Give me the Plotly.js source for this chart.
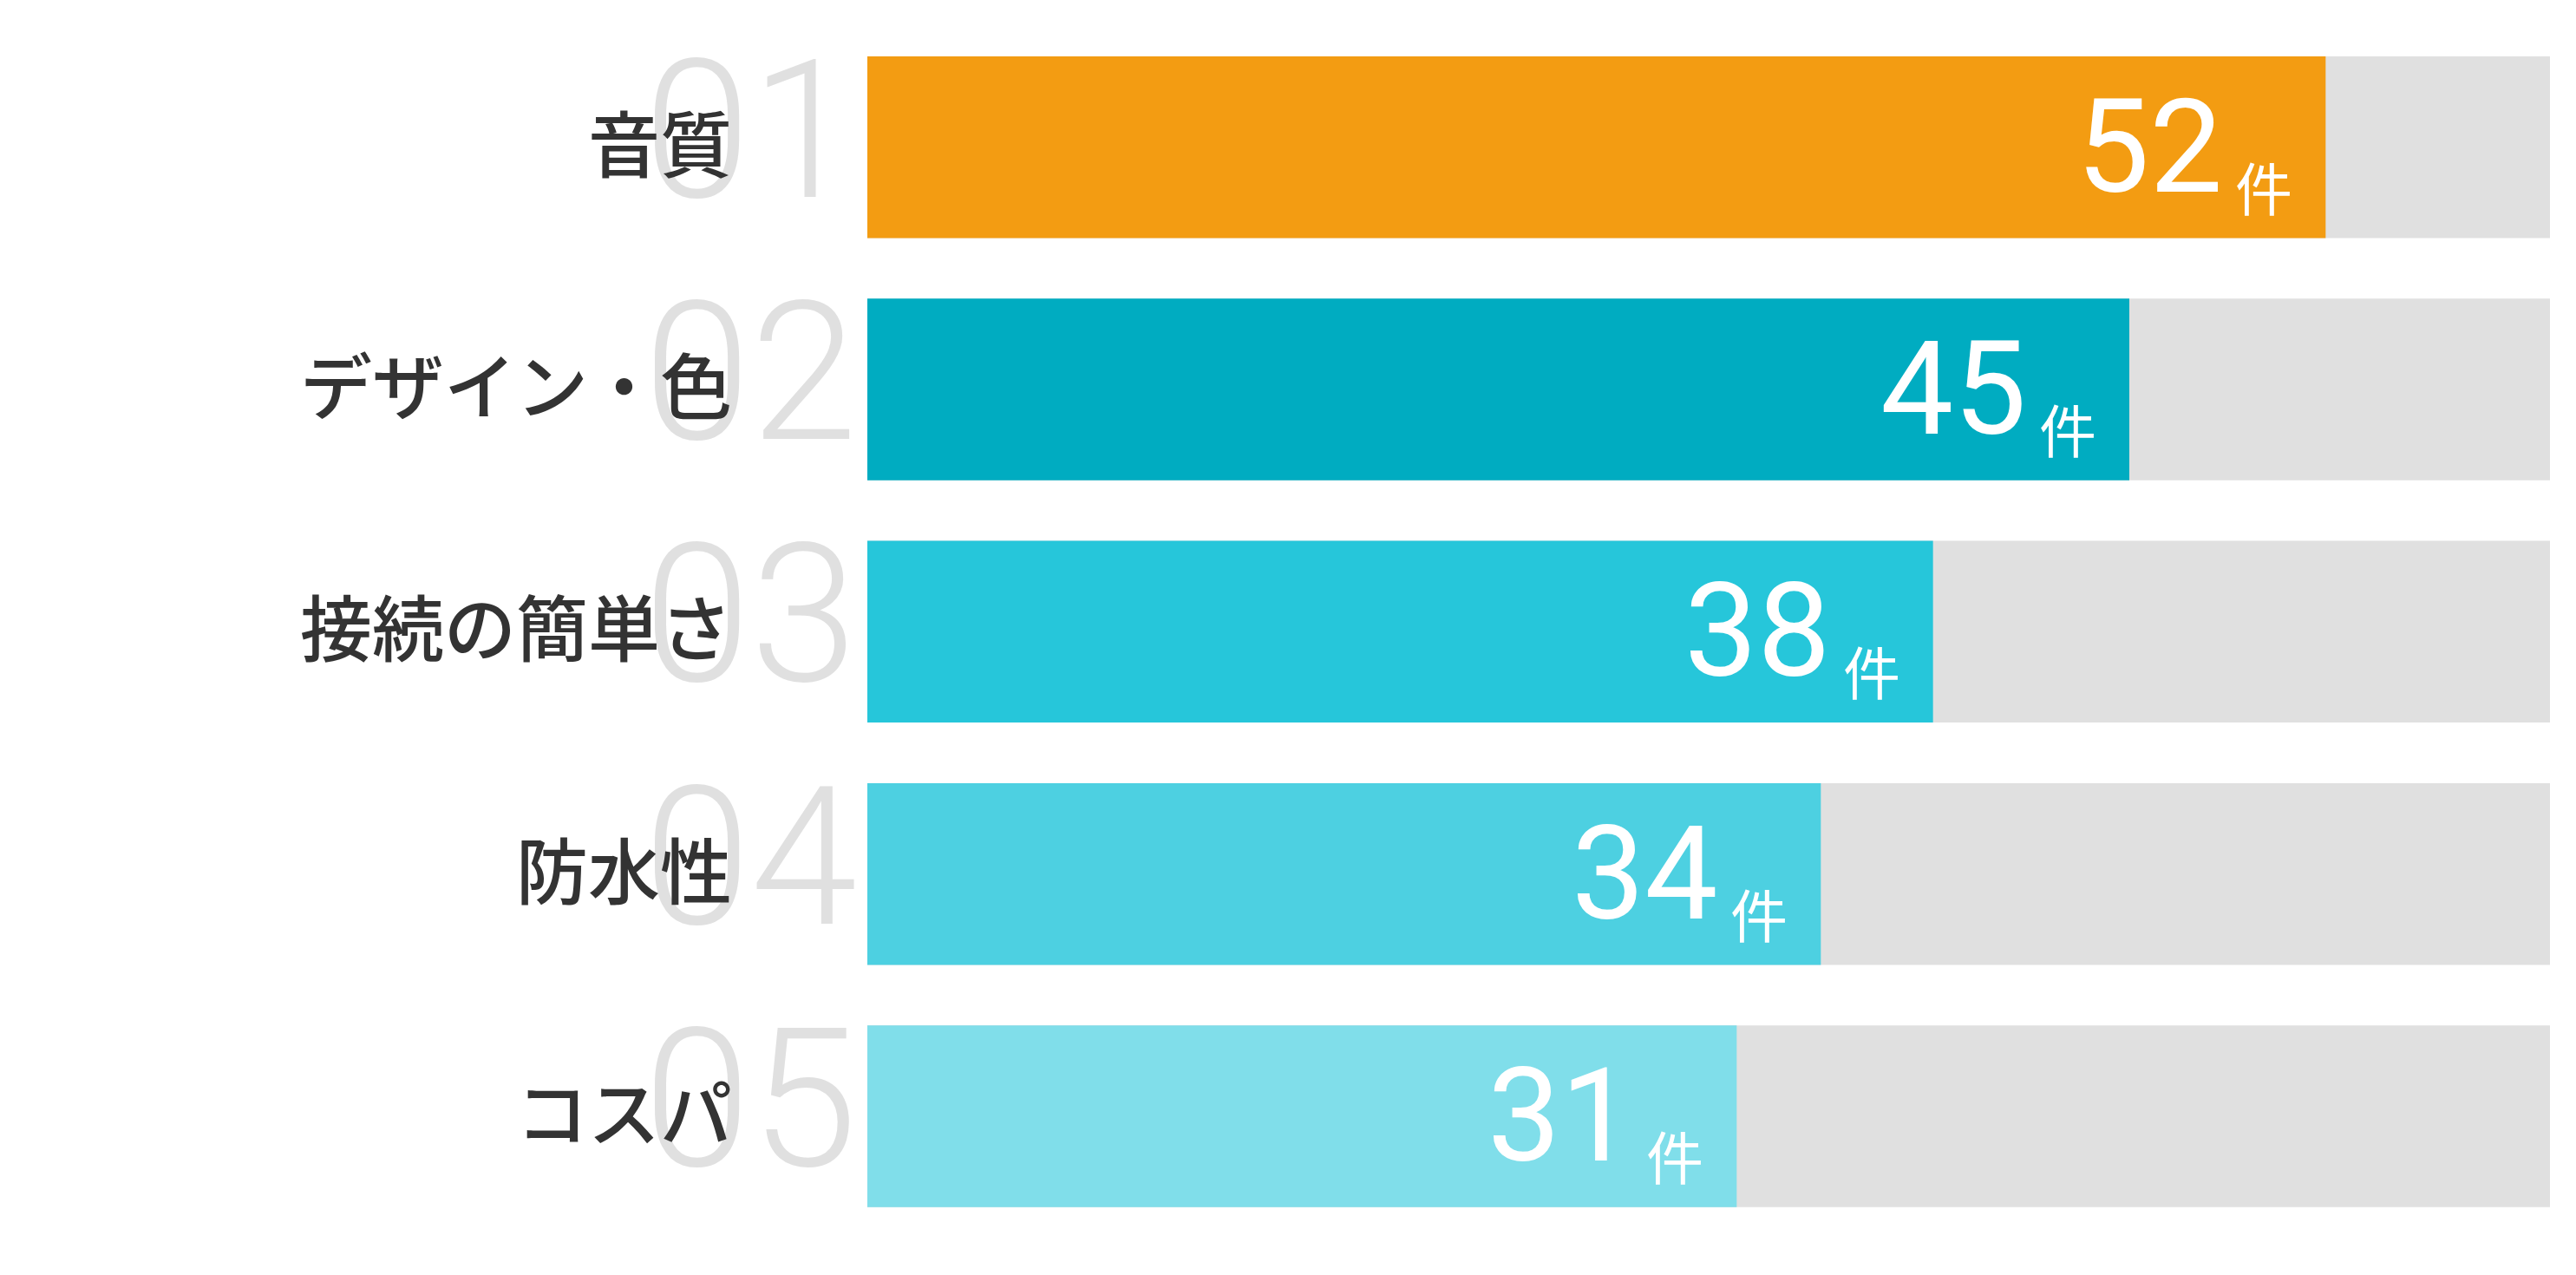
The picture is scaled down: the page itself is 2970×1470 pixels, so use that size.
<!DOCTYPE html>
<html>
<head>
<meta charset="utf-8">
<script src="https://cdn.plot.ly/plotly-3.0.1.min.js"></script>
<style>
  html, body { margin: 0; padding: 0; background: #fff; }
  #chart { width: 2970px; height: 1470px; }
</style>
</head>
<body>
<div id="chart"></div>
<script>
// data
var categories = ['音質', 'デザイン・色', '接続の簡単さ', '防水性', 'コスパ'];
var ranks = ['01', '02', '03', '04', '05'];
var counts = [52, 45, 38, 34, 31];
var fullScale = [60, 60, 60, 60, 60];
var unitLabel = '件';
var barColors = ['#F39C12', '#00ACC1', '#26C6DA', '#4DD0E1', '#80DEEA'];

var NUM_FONT = 'Roboto, "Noto Sans", sans-serif';
var JP_FONT = '"Noto Sans CJK JP", "Noto Sans", sans-serif';

var traces = [
  {
    type: 'bar',
    orientation: 'h',
    x: fullScale,
    y: categories,
    marker: { color: '#E0E0E0' },
    hoverinfo: 'skip'
  },
  {
    type: 'bar',
    orientation: 'h',
    x: counts,
    y: categories,
    marker: { color: barColors },
    hoverinfo: 'skip'
  }
];

var annotations = [];
for (var i = 0; i < categories.length; i++) {
  // big grey rank number behind the label
  annotations.push({
    xref: 'paper', yref: 'y', x: 0, y: categories[i],
    xanchor: 'right', yanchor: 'middle', xshift: -10, yshift: 19,
    text: ranks[i], showarrow: false,
    font: { family: NUM_FONT, size: 222, color: '#E0E0E0', weight: 300 }
  });
  // category label
  annotations.push({
    xref: 'paper', yref: 'y', x: 0, y: categories[i],
    xanchor: 'right', yanchor: 'middle', xshift: -154, yshift: 8,
    text: categories[i], showarrow: false,
    font: { family: JP_FONT, size: 83, color: '#333333', weight: 500 }
  });
  // value
  annotations.push({
    xref: 'x', yref: 'y', x: counts[i], y: categories[i],
    xanchor: 'right', yanchor: 'middle', xshift: -116, yshift: 0,
    text: String(counts[i]), showarrow: false,
    font: { family: NUM_FONT, size: 150, color: '#FFFFFF', weight: 400 }
  });
  // unit
  annotations.push({
    xref: 'x', yref: 'y', x: counts[i], y: categories[i],
    xanchor: 'right', yanchor: 'middle', xshift: -36, yshift: -44,
    text: unitLabel, showarrow: false,
    font: { family: JP_FONT, size: 66, color: '#FFFFFF' }
  });
}

var layout = {
  width: 2970,
  height: 1470,
  margin: { l: 1000, r: 30, t: 30, b: 32, pad: 0 },
  paper_bgcolor: '#FFFFFF',
  plot_bgcolor: '#FFFFFF',
  barmode: 'overlay',
  bargap: 0.25,
  showlegend: false,
  xaxis: {
    range: [0, 60],
    visible: false,
    fixedrange: true
  },
  yaxis: {
    type: 'category',
    autorange: 'reversed',
    visible: false,
    fixedrange: true
  },
  annotations: annotations
};

Plotly.newPlot('chart', traces, layout, { displayModeBar: false, staticPlot: true });
</script>
</body>
</html>
